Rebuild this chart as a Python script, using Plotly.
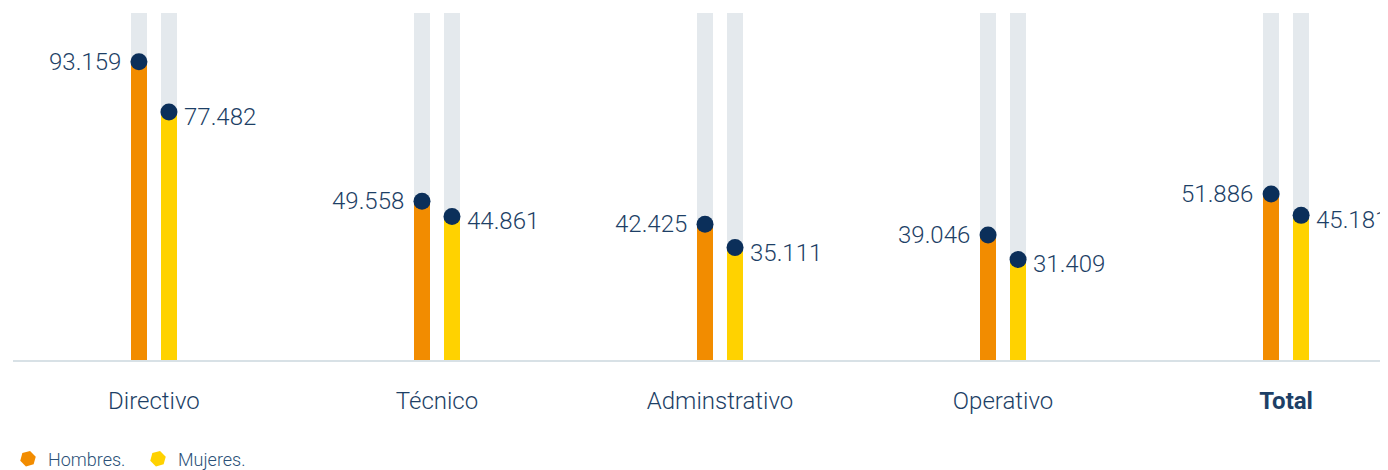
import plotly.graph_objects as go

categories = ["Directivo", "Técnico", "Adminstrativo", "Operativo", "Total"]
tick_labels = ["Directivo", "Técnico", "Adminstrativo", "Operativo", "<b>Total</b>"]
hombres = [93.159, 49.558, 42.425, 39.046, 51.886]
mujeres = [77.482, 44.861, 35.111, 31.409, 45.181]
value_labels_h = ["93.159", "49.558", "42.425", "39.046", "51.886"]
value_labels_m = ["77.482", "44.861", "35.111", "31.409", "45.181"]
series_names = ["Hombres.", "Mujeres."]

YMAX = 108.4
OFF = 0.053
BW = 0.0565
C_H = "#F28C00"
C_M = "#FFD200"
C_BG = "#E4E9ED"
C_DOT = "#0B2F5A"
C_TXT = "#1D3F66"
FONT = "Roboto"

idx = list(range(len(categories)))
xh = [i - OFF for i in idx]
xm = [i + OFF for i in idx]

fig = go.Figure()
# background bars
fig.add_trace(go.Bar(x=xh + xm, y=[YMAX] * (2 * len(idx)), width=BW,
                     marker=dict(color=C_BG, line=dict(width=0)),
                     showlegend=False, hoverinfo="skip"))
fig.add_trace(go.Bar(x=xh, y=hombres, width=BW, marker=dict(color=C_H, line=dict(width=0)),
                     showlegend=False, name=series_names[0]))
fig.add_trace(go.Bar(x=xm, y=mujeres, width=BW, marker=dict(color=C_M, line=dict(width=0)),
                     showlegend=False, name=series_names[1]))
# dots
fig.add_trace(go.Scatter(x=xh + xm, y=hombres + mujeres, mode="markers",
                         marker=dict(size=17, color=C_DOT, line=dict(width=0)),
                         showlegend=False, hoverinfo="skip"))
# legend dummies
for name, col in zip(series_names, [C_H, C_M]):
    fig.add_trace(go.Scatter(x=[None], y=[None], mode="markers", name=name,
                             marker=dict(symbol="hexagon", angle=15, size=19, color=col)))

for x, v, t in zip(xh, hombres, value_labels_h):
    fig.add_annotation(x=x, y=v, text=t, showarrow=False, xanchor="right", yanchor="middle",
                       xshift=-16, font=dict(family=FONT, size=24, weight=300, color=C_TXT))
for x, v, t in zip(xm, mujeres, value_labels_m):
    fig.add_annotation(x=x, y=v, text=t, showarrow=False, xanchor="left", yanchor="middle",
                       xshift=13, yshift=-5, font=dict(family=FONT, size=24, weight=300, color=C_TXT))

# the page body adds an 8px offset, so the figure is drawn 8px smaller
fig.update_layout(
    width=1380, height=462,
    margin=dict(l=5, r=0, t=5, b=110),
    paper_bgcolor="white", plot_bgcolor="white",
    barmode="overlay", bargap=0,
    font=dict(family=FONT, color=C_TXT),
    showlegend=True,
    legend=dict(orientation="h", xref="container", yref="container",
                x=0, xanchor="left", y=11 / 462, yanchor="middle",
                entrywidth=85, entrywidthmode="pixels",
                font=dict(family=FONT, size=18, weight=300, color="#2A5078"),
                tracegroupgap=0, bgcolor="rgba(0,0,0,0)"),
    xaxis=dict(range=[-0.498, 4.36], tickmode="array", tickvals=idx, ticktext=tick_labels,
               showgrid=False, zeroline=False, showline=True, linecolor="#D8E1E6", linewidth=2,
               ticks="", ticklabelstandoff=18,
               tickfont=dict(family=FONT, size=24, weight=300, color=C_TXT), fixedrange=True),
    yaxis=dict(range=[0, YMAX], visible=False, showgrid=False, zeroline=False, fixedrange=True),
)

fig.write_html("out.html")
